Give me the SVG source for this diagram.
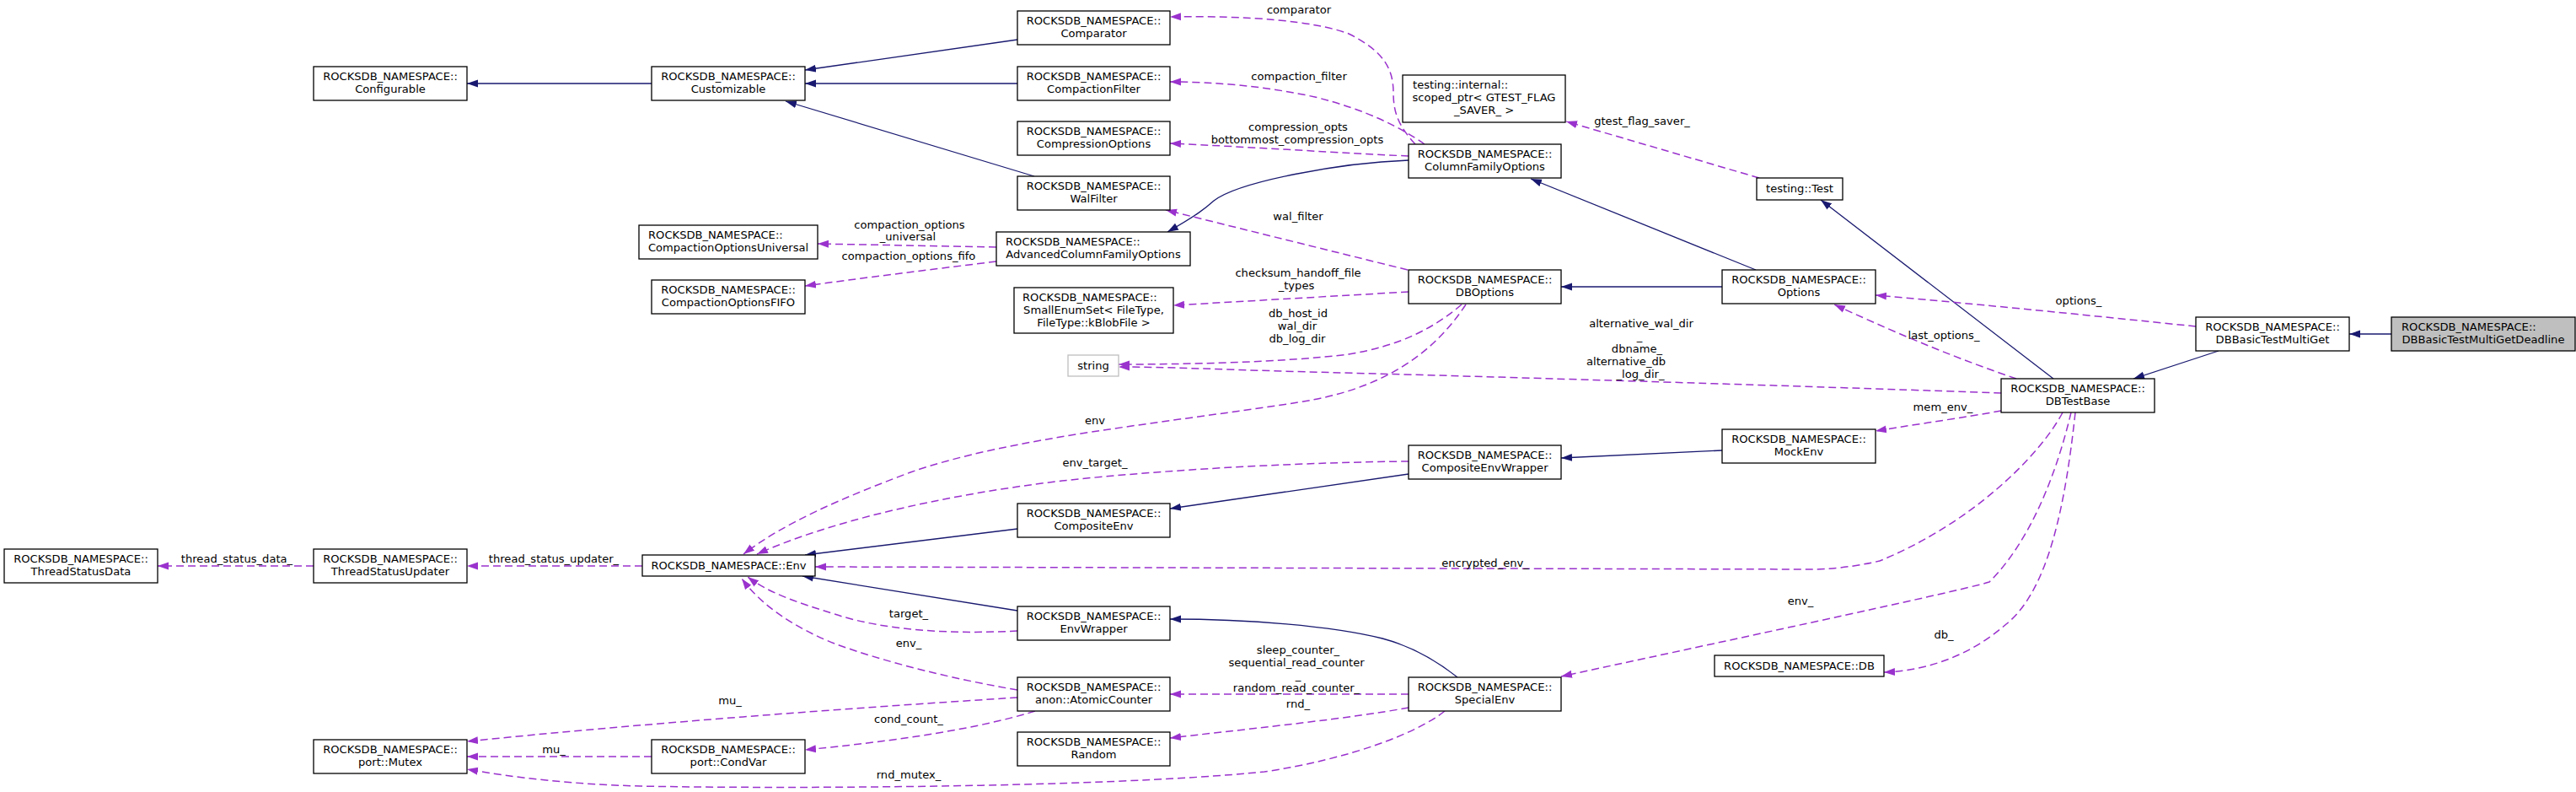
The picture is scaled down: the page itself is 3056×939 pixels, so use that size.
<svg xmlns="http://www.w3.org/2000/svg" width="3056" height="939" viewBox="0 0 3056 939">
<style>
.node rect{fill:#fff;stroke:#000;stroke-width:1.3}
.node.grey rect{fill:#bfbfbf}
.node.ext rect{stroke:#bfbfbf}
text{font-family:"DejaVu Sans","Liberation Sans",sans-serif;font-size:13.1px;fill:#000}
.c{text-anchor:middle}
.inh{fill:none;stroke:#191970;stroke-width:1.3;marker-end:url(#ab)}
.use{fill:none;stroke:#9a32cd;stroke-width:1.5;stroke-dasharray:9,5;marker-end:url(#ap)}
</style>
<defs>
<marker id="ab" markerUnits="userSpaceOnUse" markerWidth="14" markerHeight="10" refX="13" refY="5" orient="auto" viewBox="0 0 14 10"><path d="M0,0.5 L13,5 L0,9.5z" fill="#191970"/></marker>
<marker id="ap" markerUnits="userSpaceOnUse" markerWidth="14" markerHeight="10" refX="13" refY="5" orient="auto" viewBox="0 0 14 10"><path d="M0,0.5 L13,5 L0,9.5z" fill="#9a32cd"/></marker>
</defs>
<rect width="3056" height="939" fill="#fff"/>
<g id="connectors">
<path class="inh" d="M773,99 L554,99"/>
<path class="inh" d="M1207,47 L955,83"/>
<path class="inh" d="M1207,99 L955,99"/>
<path class="inh" d="M1227,209 L932,120"/>
<path class="inh" d="M1671,190 C1590,193 1470,215 1440,238 C1430,247 1420,255 1385,275"/>
<path class="inh" d="M2083,320 L1816,212"/>
<path class="inh" d="M2043,340 L1852,340"/>
<path class="inh" d="M2436,449 L2160,237"/>
<path class="inh" d="M2632,416 L2531,449"/>
<path class="inh" d="M2837,396 L2787,396"/>
<path class="inh" d="M2043,534 L1852,543"/>
<path class="inh" d="M1671,562 L1388,603"/>
<path class="inh" d="M1207,627 L955,658"/>
<path class="inh" d="M1207,724 L952,683"/>
<path class="inh" d="M1729,803 C1700,780 1670,765 1640,757 C1580,742 1480,734 1388,734"/>

<path class="use" d="M1679,171 C1660,150 1653,135 1653,110 C1653,80 1640,60 1600,40 C1560,25 1480,18 1388,20"/>
<path class="use" d="M1690,171 C1660,150 1620,130 1560,115 C1500,102 1440,97 1388,97"/>
<path class="use" d="M1671,185 C1600,182 1480,174 1388,170"/>
<path class="use" d="M1670,320 L1383,249"/>
<path class="use" d="M1671,346 L1392,362"/>
<path class="use" d="M1734,361 C1700,390 1660,410 1600,420 C1520,430 1400,432 1327,432"/>
<path class="use" d="M2374,466 C2200,460 1900,450 1520,440 C1450,438 1380,435 1327,435"/>
<path class="use" d="M1739,361 C1700,420 1640,462 1540,477 C1380,502 1200,518 1080,560 C1000,590 930,620 882,657"/>
<path class="use" d="M1671,547 C1560,548 1400,555 1260,570 C1110,588 980,620 898,657"/>
<path class="use" d="M2447,489 C2420,540 2340,620 2230,665 C2200,672 2170,675 2150,675 L967,672"/>
<path class="use" d="M2374,487 C2330,495 2280,502 2225,511"/>
<path class="use" d="M2457,489 C2440,560 2410,640 2360,690 C2330,700 2000,770 1852,802"/>
<path class="use" d="M2462,489 C2450,600 2430,700 2380,740 C2340,775 2290,795 2235,797"/>
<path class="use" d="M2392,449 C2330,428 2260,400 2176,361"/>
<path class="use" d="M2605,387 C2480,374 2320,358 2225,350"/>
<path class="use" d="M2087,211 L1858,144"/>
<path class="use" d="M1182,293 L970,289"/>
<path class="use" d="M1182,310 C1100,320 1020,330 955,339"/>
<path class="use" d="M372,671 L187,671"/>
<path class="use" d="M762,671 L554,671"/>
<path class="use" d="M1207,748 C1130,752 1050,748 990,728 C945,714 912,703 887,684"/>
<path class="use" d="M1207,818 C1130,805 1050,785 990,763 C945,745 905,720 880,686"/>
<path class="use" d="M1207,827 C1000,840 760,858 554,879"/>
<path class="use" d="M1228,843 C1180,858 1100,875 955,889"/>
<path class="use" d="M773,897 L554,897"/>
<path class="use" d="M1671,823 L1388,823"/>
<path class="use" d="M1671,839 C1600,852 1500,862 1388,875"/>
<path class="use" d="M1714,843 C1680,870 1600,900 1500,915 C1300,935 900,935 760,932 C680,930 610,922 554,912"/>

<g id="edge-labels">
<text class="c" x="1541" y="16">comparator</text>
<text class="c" x="1541" y="95">compaction_filter</text>
<text class="c" x="1540" y="155">compression_opts</text>
<text class="c" x="1539" y="170">bottommost_compression_opts</text>
<text class="c" x="1540" y="261">wal_filter</text>
<text class="c" x="1540" y="328">checksum_handoff_file</text>
<text class="c" x="1538" y="343">_types</text>
<text class="c" x="1540" y="376">db_host_id</text>
<text class="c" x="1539" y="391">wal_dir</text>
<text class="c" x="1539" y="406">db_log_dir</text>
<text class="c" x="1947" y="388">alternative_wal_dir</text>
<text class="c" x="1945" y="403">_</text>
<text class="c" x="1942" y="418">dbname_</text>
<text x="1882" y="433">alternative_db</text>
<text class="c" x="1946" y="448">_log_dir_</text>
<text class="c" x="1948" y="148">gtest_flag_saver_</text>
<text class="c" x="2466" y="361">options_</text>
<text class="c" x="2306" y="402">last_options_</text>
<text class="c" x="1079" y="271">compaction_options</text>
<text class="c" x="1077" y="285">_universal</text>
<text class="c" x="1078" y="308">compaction_options_fifo</text>
<text class="c" x="281" y="667">thread_status_data_</text>
<text class="c" x="657" y="667">thread_status_updater_</text>
<text class="c" x="657" y="893">mu_</text>
<text class="c" x="1299" y="503">env</text>
<text class="c" x="1299" y="553">env_target_</text>
<text class="c" x="1078" y="732">target_</text>
<text class="c" x="1078" y="767">env_</text>
<text class="c" x="866" y="835">mu_</text>
<text class="c" x="1078" y="857">cond_count_</text>
<text class="c" x="1078" y="923">rnd_mutex_</text>
<text class="c" x="1540" y="775">sleep_counter_</text>
<text class="c" x="1538" y="790">sequential_read_counter</text>
<text class="c" x="1540" y="805">_</text>
<text class="c" x="1538" y="820">random_read_counter_</text>
<text class="c" x="1540" y="839">rnd_</text>
<text class="c" x="1762" y="672">encrypted_env_</text>
<text class="c" x="2136" y="717">env_</text>
<text class="c" x="2305" y="487">mem_env_</text>
<text class="c" x="2306" y="757">db_</text>
</g>
</g>

<g id="n_configurable" class="node"><rect x="372" y="79" width="182" height="40"/><text class="c" x="463" y="95">ROCKSDB_NAMESPACE::</text><text class="c" x="463" y="110">Configurable</text></g>
<g id="n_customizable" class="node"><rect x="773" y="79" width="182" height="40"/><text class="c" x="864" y="95">ROCKSDB_NAMESPACE::</text><text class="c" x="864" y="110">Customizable</text></g>
<g id="n_comparator" class="node"><rect x="1207" y="13" width="181" height="40"/><text class="c" x="1297.5" y="29">ROCKSDB_NAMESPACE::</text><text class="c" x="1297.5" y="44">Comparator</text></g>
<g id="n_compactionfilter" class="node"><rect x="1207" y="79" width="181" height="40"/><text class="c" x="1297.5" y="95">ROCKSDB_NAMESPACE::</text><text class="c" x="1297.5" y="110">CompactionFilter</text></g>
<g id="n_compressionoptions" class="node"><rect x="1207" y="144" width="181" height="40"/><text class="c" x="1297.5" y="160">ROCKSDB_NAMESPACE::</text><text class="c" x="1297.5" y="175">CompressionOptions</text></g>
<g id="n_walfilter" class="node"><rect x="1207" y="209" width="181" height="40"/><text class="c" x="1297.5" y="225">ROCKSDB_NAMESPACE::</text><text class="c" x="1297.5" y="240">WalFilter</text></g>
<g id="n_advancedcfo" class="node"><rect x="1182" y="275" width="230" height="40"/><text x="1193" y="291">ROCKSDB_NAMESPACE::</text><text class="c" x="1297" y="306">AdvancedColumnFamilyOptions</text></g>
<g id="n_compactionoptionsuniversal" class="node"><rect x="758" y="267" width="212" height="40"/><text x="769" y="283">ROCKSDB_NAMESPACE::</text><text class="c" x="864" y="298">CompactionOptionsUniversal</text></g>
<g id="n_compactionoptionsfifo" class="node"><rect x="773" y="332" width="182" height="40"/><text class="c" x="864" y="348">ROCKSDB_NAMESPACE::</text><text class="c" x="864" y="363">CompactionOptionsFIFO</text></g>
<g id="n_smallenumset" class="node"><rect x="1203" y="341" width="189" height="54"/><text x="1213" y="357">ROCKSDB_NAMESPACE::</text><text class="c" x="1297.5" y="372">SmallEnumSet&lt; FileType,</text><text class="c" x="1297.5" y="387">FileType::kBlobFile &gt;</text></g>
<g id="n_string" class="node ext"><rect x="1267" y="421" width="60" height="25"/><text class="c" x="1297" y="438">string</text></g>
<g id="n_scopedptr" class="node"><rect x="1664" y="89" width="193" height="56"/><text x="1676" y="105">testing::internal::</text><text class="c" x="1760.5" y="120">scoped_ptr&lt; GTEST_FLAG</text><text class="c" x="1760.5" y="135">_SAVER_ &gt;</text></g>
<g id="n_columnfamilyoptions" class="node"><rect x="1671" y="171" width="181" height="40"/><text class="c" x="1761.5" y="187">ROCKSDB_NAMESPACE::</text><text class="c" x="1761.5" y="202">ColumnFamilyOptions</text></g>
<g id="n_test" class="node"><rect x="2084" y="211" width="102" height="26"/><text class="c" x="2135" y="228">testing::Test</text></g>
<g id="n_dboptions" class="node"><rect x="1671" y="320" width="181" height="40"/><text class="c" x="1761.5" y="336">ROCKSDB_NAMESPACE::</text><text class="c" x="1761.5" y="351">DBOptions</text></g>
<g id="n_options" class="node"><rect x="2043" y="320" width="182" height="40"/><text class="c" x="2134" y="336">ROCKSDB_NAMESPACE::</text><text class="c" x="2134" y="351">Options</text></g>
<g id="n_dbbasictestmultiget" class="node"><rect x="2605" y="376" width="182" height="40"/><text class="c" x="2696" y="392">ROCKSDB_NAMESPACE::</text><text class="c" x="2696" y="407">DBBasicTestMultiGet</text></g>
<g id="n_deadline" class="node grey"><rect x="2837" y="376" width="218" height="40"/><text x="2849" y="392">ROCKSDB_NAMESPACE::</text><text class="c" x="2946" y="407">DBBasicTestMultiGetDeadline</text></g>
<g id="n_dbtestbase" class="node"><rect x="2374" y="449" width="182" height="40"/><text class="c" x="2465" y="465">ROCKSDB_NAMESPACE::</text><text class="c" x="2465" y="480">DBTestBase</text></g>
<g id="n_threadstatusdata" class="node"><rect x="5" y="651" width="182" height="40"/><text class="c" x="96" y="667">ROCKSDB_NAMESPACE::</text><text class="c" x="96" y="682">ThreadStatusData</text></g>
<g id="n_threadstatusupdater" class="node"><rect x="372" y="651" width="182" height="40"/><text class="c" x="463" y="667">ROCKSDB_NAMESPACE::</text><text class="c" x="463" y="682">ThreadStatusUpdater</text></g>
<g id="n_env" class="node"><rect x="762" y="658" width="205" height="25"/><text class="c" x="864.5" y="675">ROCKSDB_NAMESPACE::Env</text></g>
<g id="n_mutex" class="node"><rect x="372" y="877" width="182" height="40"/><text class="c" x="463" y="893">ROCKSDB_NAMESPACE::</text><text class="c" x="463" y="908">port::Mutex</text></g>
<g id="n_compositeenv" class="node"><rect x="1207" y="597" width="181" height="40"/><text class="c" x="1297.5" y="613">ROCKSDB_NAMESPACE::</text><text class="c" x="1297.5" y="628">CompositeEnv</text></g>
<g id="n_envwrapper" class="node"><rect x="1207" y="719" width="181" height="40"/><text class="c" x="1297.5" y="735">ROCKSDB_NAMESPACE::</text><text class="c" x="1297.5" y="750">EnvWrapper</text></g>
<g id="n_atomiccounter" class="node"><rect x="1207" y="803" width="181" height="40"/><text class="c" x="1297.5" y="819">ROCKSDB_NAMESPACE::</text><text class="c" x="1297.5" y="834">anon::AtomicCounter</text></g>
<g id="n_condvar" class="node"><rect x="773" y="877" width="182" height="40"/><text class="c" x="864" y="893">ROCKSDB_NAMESPACE::</text><text class="c" x="864" y="908">port::CondVar</text></g>
<g id="n_random" class="node"><rect x="1207" y="868" width="181" height="40"/><text class="c" x="1297.5" y="884">ROCKSDB_NAMESPACE::</text><text class="c" x="1297.5" y="899">Random</text></g>
<g id="n_compositeenvwrapper" class="node"><rect x="1671" y="528" width="181" height="40"/><text class="c" x="1761.5" y="544">ROCKSDB_NAMESPACE::</text><text class="c" x="1761.5" y="559">CompositeEnvWrapper</text></g>
<g id="n_mockenv" class="node"><rect x="2043" y="509" width="182" height="40"/><text class="c" x="2134" y="525">ROCKSDB_NAMESPACE::</text><text class="c" x="2134" y="540">MockEnv</text></g>
<g id="n_specialenv" class="node"><rect x="1671" y="803" width="181" height="40"/><text class="c" x="1761.5" y="819">ROCKSDB_NAMESPACE::</text><text class="c" x="1761.5" y="834">SpecialEnv</text></g>
<g id="n_db" class="node"><rect x="2034" y="777" width="201" height="25"/><text class="c" x="2134.5" y="794">ROCKSDB_NAMESPACE::DB</text></g>
</svg>
